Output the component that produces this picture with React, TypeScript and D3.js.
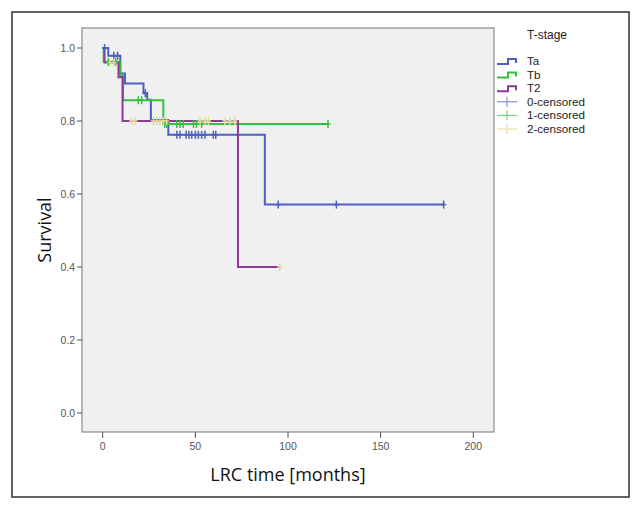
import React from "react";
import * as d3 from "d3";

// Kaplan-Meier step data (time in months, survival)
const taTimes = [0, 3, 9.5, 12, 22, 24, 26, 35.4, 87.5, 184];
const taSurv = [1.0, 0.979, 0.93, 0.903, 0.876, 0.858, 0.803, 0.762, 0.571, 0.571];
const tbTimes = [0, 0.5, 9.5, 11, 32.7, 121.6];
const tbSurv = [1.0, 0.962, 0.923, 0.857, 0.792, 0.792];
const t2Times = [0, 1, 8.5, 10.7, 73, 95.6];
const t2Surv = [1.0, 0.96, 0.92, 0.8, 0.4, 0.4];

const taCensored = [1, 6, 8, 23, 40, 41.7, 45, 46.5, 48, 50, 51.6, 53.4, 55.2, 59.7, 61, 94.7, 126.1, 184];
const tbCensored = [3, 7, 19.2, 21, 33.5, 34.5, 40, 41.7, 43.5, 49, 50.6, 53.4, 121.6];
const t2Censored = [4, 6, 15.6, 17.4, 27.3, 29.1, 30.9, 32.7, 34.5, 52.5, 55.2, 57, 66, 68.6, 71.3, 95.6];

const xTicks = [0, 50, 100, 150, 200];
const yTicks = [0, 0.2, 0.4, 0.6, 0.8, 1.0];

const groups = ["Ta", "Tb", "T2"];
const lineColors = ["#4a60c2", "#34c23e", "#8e3a98"];
const censorColors = ["#6b80d8", "#5ad462", "#e3d79c"];
const censorLabels = ["0-censored", "1-censored", "2-censored"];

const W = 642, H = 510;
const plot = { left: 82, top: 28, right: 494, bottom: 432 };

export default function App() {
  const x = d3.scaleLinear().domain([0, 200]).range([102.7, 473.3]);
  const y = d3.scaleLinear().domain([0, 1]).range([413, 48]);

  const series = [
    { times: taTimes, surv: taSurv, cens: taCensored },
    { times: tbTimes, surv: tbSurv, cens: tbCensored },
    { times: t2Times, surv: t2Surv, cens: t2Censored },
  ];

  const line = d3
    .line<[number, number]>()
    .x((d) => x(d[0]))
    .y((d) => y(d[1]))
    .curve(d3.curveStepAfter);

  const survAt = (times: number[], surv: number[], t: number) => {
    let s = surv[0];
    for (let i = 0; i < times.length; i++) if (times[i] <= t) s = surv[i];
    return s;
  };

  const tickFont = "'Liberation Sans', Arial, sans-serif";
  const legFont = "'Liberation Sans', Arial, sans-serif";

  return (
    <svg
      width={W}
      height={H}
      style={{ position: "absolute", left: 0, top: 0, background: "#fff" }}
    >
      <rect x={12} y={12} width={617} height={485} fill="#fff" stroke="#333" strokeWidth={1.5} />
      <rect
        x={plot.left}
        y={plot.top}
        width={plot.right - plot.left}
        height={plot.bottom - plot.top}
        fill="#f0f0f0"
        stroke="#8a8a8a"
        strokeWidth={1.2}
      />
      {yTicks.map((t) => (
        <g key={"y" + t}>
          <line x1={plot.left - 5} x2={plot.left} y1={y(t)} y2={y(t)} stroke="#555" strokeWidth={1} />
          <text
            x={plot.left - 7}
            y={y(t)}
            dy="0.35em"
            textAnchor="end"
            fontSize={10.5}
            fill="#555"
            fontFamily={tickFont}
          >
            {t.toFixed(1)}
          </text>
        </g>
      ))}
      {xTicks.map((t) => (
        <g key={"x" + t}>
          <line x1={x(t)} x2={x(t)} y1={plot.bottom} y2={plot.bottom + 6} stroke="#555" strokeWidth={1} />
          <text
            x={x(t)}
            y={plot.bottom + 18}
            textAnchor="middle"
            fontSize={10.5}
            fill="#555"
            fontFamily={tickFont}
          >
            {t}
          </text>
        </g>
      ))}
      {series.map((s, i) => {
        const pts: [number, number][] = s.times.map((t, j) => [t, s.surv[j]]);
        return (
          <path key={"l" + i} d={line(pts) || ""} fill="none" stroke={lineColors[i]} strokeWidth={2} />
        );
      })}
      {series.map((s, i) =>
        s.cens.map((t, j) => {
          const cx = x(t);
          const cy = y(survAt(s.times, s.surv, t));
          return (
            <g key={"c" + i + "-" + j} stroke={i === 2 ? censorColors[2] : lineColors[i]} strokeWidth={1.5}>
              <line x1={cx} x2={cx} y1={cy - 4} y2={cy + 4} />
              <line x1={cx - 2.5} x2={cx + 2.5} y1={cy} y2={cy} />
            </g>
          );
        })
      )}
      <text
        x={288}
        y={481}
        textAnchor="middle"
        fontSize={18}
        fill="#111"
        fontFamily="'Open Sans', 'Noto Sans', sans-serif"
      >
        LRC time [months]
      </text>
      <text
        transform={`translate(51,${(plot.top + plot.bottom) / 2}) rotate(-90)`}
        textAnchor="middle"
        fontSize={18}
        fill="#111"
        fontFamily="'Open Sans', 'Noto Sans', sans-serif"
      >
        Survival
      </text>
      <text x={527} y={39} fontSize={12} fill="#222" fontFamily={legFont}>
        T-stage
      </text>
      {groups.map((g, i) => {
        const ly = 61 + i * 13.6;
        return (
          <g key={"lg" + i}>
            <path
              d={`M497,${ly + 3} H508 V${ly - 2} H516 V${ly + 2}`}
              fill="none"
              stroke={lineColors[i]}
              strokeWidth={2}
            />
            <text x={527} y={ly} dy="0.35em" fontSize={11.6} fill="#222" fontFamily={legFont}>
              {g}
            </text>
          </g>
        );
      })}
      {censorLabels.map((g, i) => {
        const ly = 101.8 + i * 13.6;
        return (
          <g key={"lc" + i}>
            <g stroke={censorColors[i]} strokeWidth={1}>
              <line x1={497} x2={517} y1={ly} y2={ly} />
              <line x1={507} x2={507} y1={ly - 5} y2={ly + 5} />
            </g>
            <text x={527} y={ly} dy="0.35em" fontSize={11.6} fill="#222" fontFamily={legFont}>
              {g}
            </text>
          </g>
        );
      })}
    </svg>
  );
}
